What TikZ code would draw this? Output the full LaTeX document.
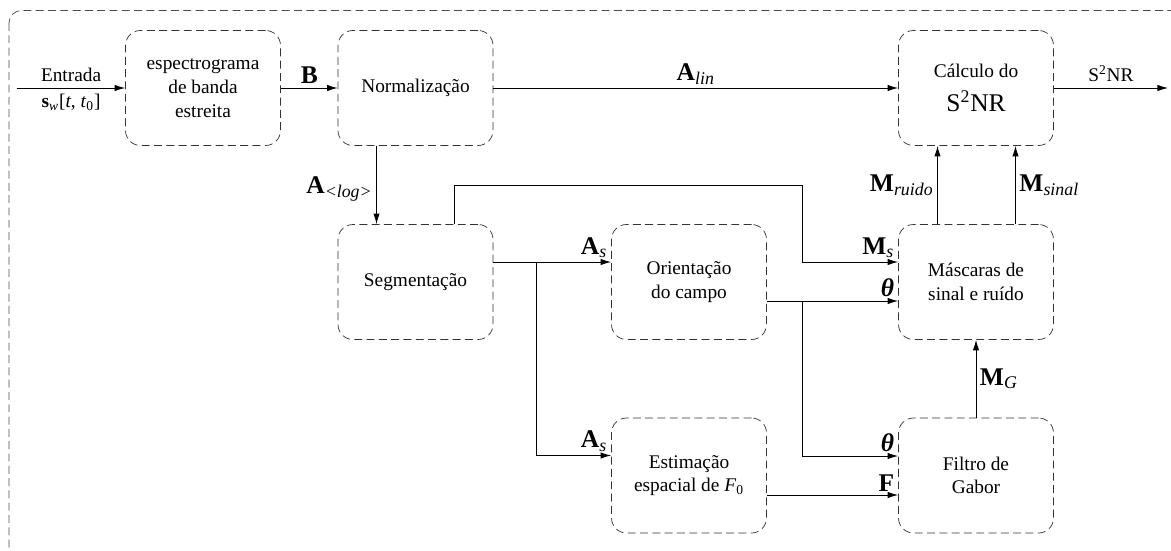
\documentclass[tikz,border=0pt]{standalone}
\usepackage{fontspec}
\setmainfont{Liberation Serif}
\usepackage{tikz}
\usetikzlibrary{arrows.meta}
\tikzset{
	bloco/.style={draw=black!80, dash pattern=on 4.5pt off 2.5pt, rounded corners=0.3cm, minimum width=3.1cm, minimum height=2.3cm, align=center, font=\fontsize{11}{13.5}\selectfont},
	rot/.style={font=\fontsize{14.5}{16}\selectfont, inner sep=2pt},
	seta/.style={-{Latex[length=6pt, width=3.6pt]}, line width=0.5pt},
}

\begin{document}
\begin{tikzpicture}
		\useasboundingbox(0, 0) rectangle (23.42, -11);
		\draw[black!70, dash pattern=on 4.5pt off 2.5pt, rounded corners=0.25cm](0.18, -0.21) rectangle (23.7, -11.4);
		\node[bloco](espec) at (4.06, -1.76){espectrograma\\de banda\\estreita};
		\node[bloco](norm) at (8.31, -1.76){Normalização};
		\node[bloco](calc) at (19.52, -1.76){Cálculo do\\[6pt]{\fontsize{14.5}{16}\selectfont S\textsuperscript{2}NR}};
		\node[bloco](seg) at (8.31, -5.64){Segmentação};
		\node[bloco](ori) at (13.78, -5.64){Orientação\\do campo};
		\node[bloco](masc) at (19.52, -5.64){Máscaras de\\sinal e ruído};
		\node[bloco](est) at (13.78, -9.51){Estimação\\espacial de \textit{F}\textsubscript{0}};
		\node[bloco](gab) at (19.52, -9.51){Filtro de\\Gabor};
		\coordinate(entrada) at (0.34, -1.76);
		\coordinate(saida) at (23.36, -1.76);
		\coordinate(laco) at (16.04, -3.7);
		\coordinate(ramo1) at (10.72, -5.24);
		\coordinate(ramo2) at (16.04, -6.02);
		\draw[seta](entrada)--(espec)node[midway, above, font=\fontsize{11}{13}\selectfont]{Entrada}node[midway, below, font=\fontsize{11}{13}\selectfont]{\textbf{s}\textsubscript{\textit{w}}[\textit{t}, \textit{t}\textsubscript{0}]};
		\draw[seta](espec)--(norm)node[midway, above, rot]{\textbf{B}};
		\draw[seta](norm)--(calc)node[midway, above, rot]{\textbf{A}\textsubscript{\textit{lin}}};
		\draw[seta](calc)--(saida)node[midway, above, font=\fontsize{11}{13}\selectfont]{S\textsuperscript{2}NR};
		\draw[seta]([xshift=-0.78cm]norm.south)--([xshift=-0.78cm]seg.north)node[pos=0.55, left, rot]{\textbf{A}\textsubscript{\textit{<log>}}};
		\draw[seta]([xshift=0.78cm]seg.north)|-(laco)|-([yshift=0.4cm]masc.west)node[above left, rot]{\textbf{M}\textsubscript{\textit{s}}};
		\draw[seta]([yshift=0.4cm]seg.east)--([yshift=0.4cm]ori.west)node[above left, rot]{\textbf{A}\textsubscript{\textit{s}}};
		\draw[seta](ramo1)|-([yshift=0.4cm]est.west)node[above left, rot]{\textbf{A}\textsubscript{\textit{s}}};
		\draw[seta]([yshift=-0.38cm]ori.east)--([yshift=-0.38cm]masc.west)node[above left, rot]{\textbf{\textit{θ}}};
		\draw[seta](ramo2)|-([yshift=0.39cm]gab.west)node[above left, rot]{\textbf{\textit{θ}}};
		\draw[seta]([yshift=-0.39cm]est.east)--([yshift=-0.39cm]gab.west)node[above left, rot]{\textbf{F}};
		\draw[seta](gab)--(masc)node[midway, right, rot]{\textbf{M}\textsubscript{\textit{G}}};
		\draw[seta]([xshift=-0.77cm]masc.north)--([xshift=-0.77cm]calc.south)node[midway, left, rot]{\textbf{M}\textsubscript{\textit{ruido}}};
		\draw[seta]([xshift=0.79cm]masc.north)--([xshift=0.79cm]calc.south)node[midway, right, rot]{\textbf{M}\textsubscript{\textit{sinal}}};
	\end{tikzpicture}
\end{document}
